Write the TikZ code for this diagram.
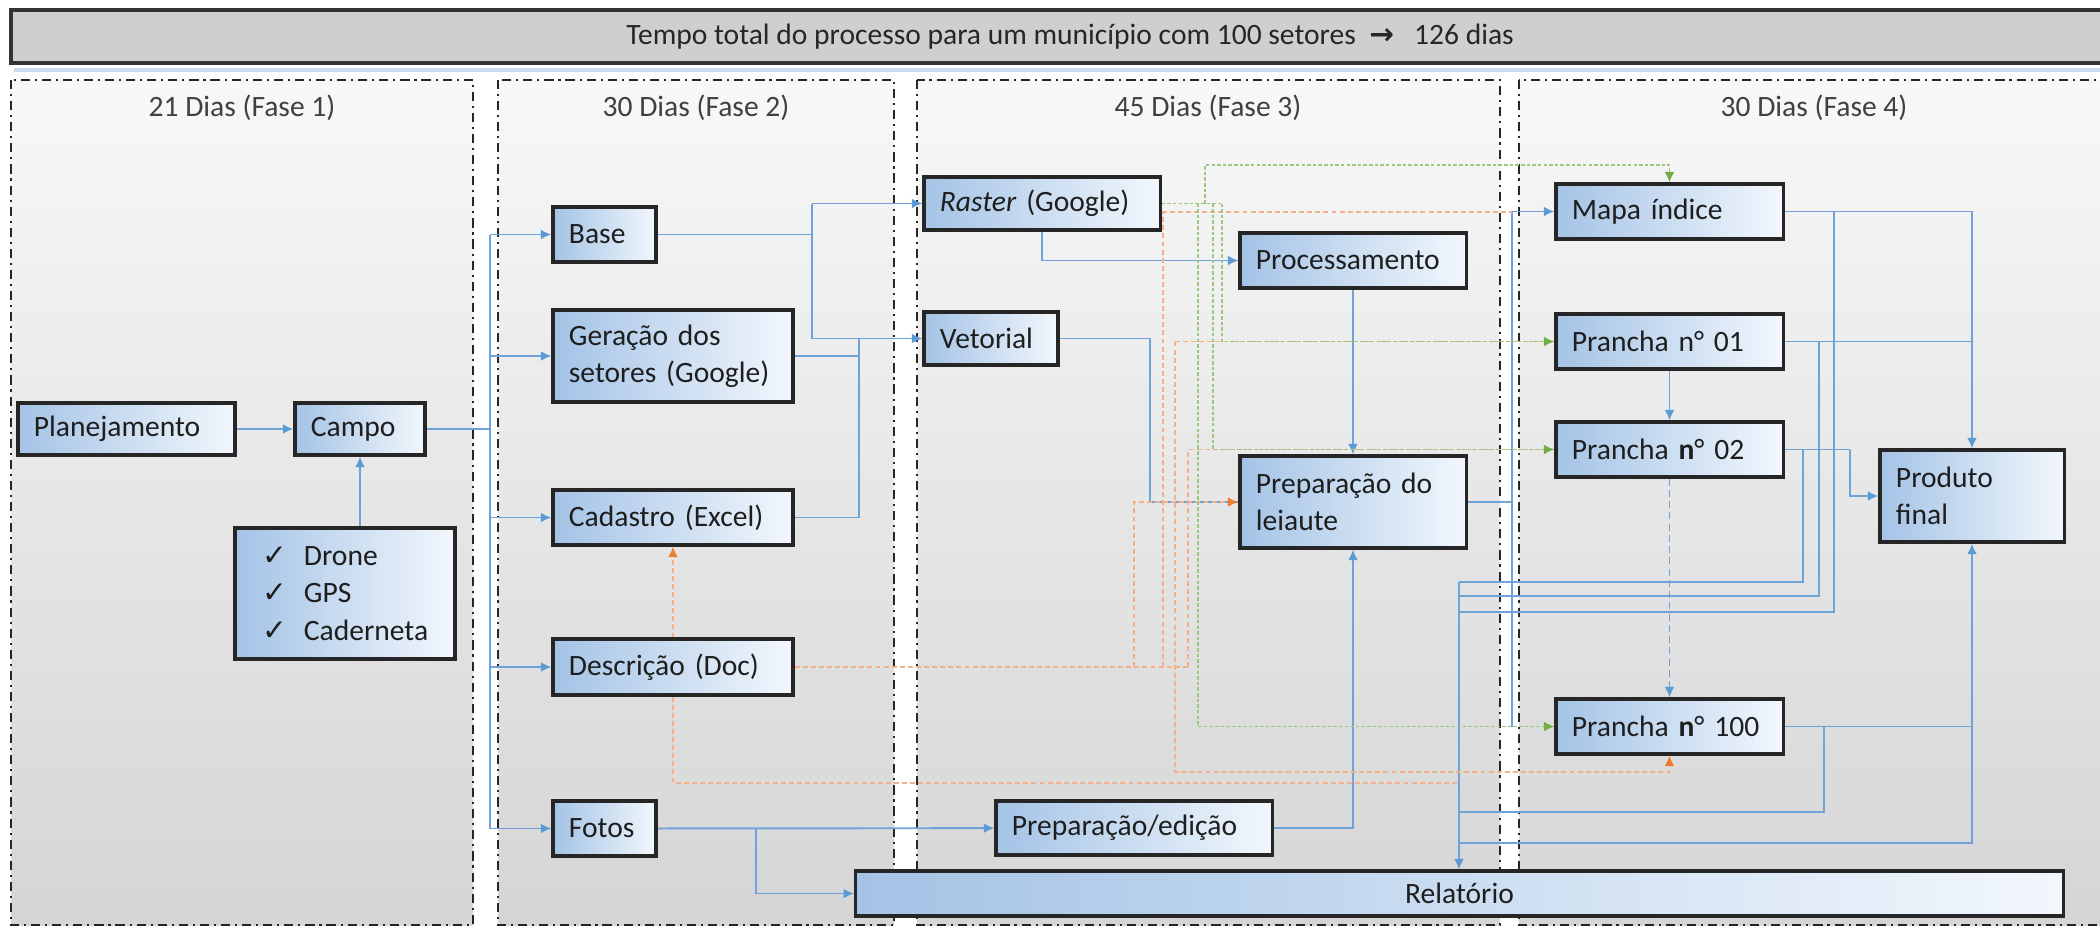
\documentclass[tikz,border=0pt]{standalone}
\usepackage{fontspec}
\setmainfont{Carlito}
\newfontfamily\djv{DejaVu Sans}
\usetikzlibrary{arrows.meta}
\definecolor{boxL}{HTML}{A4C3E6}
\definecolor{boxR}{HTML}{F2F7FC}
\definecolor{lnB}{HTML}{6FA2D8}
\definecolor{lnG}{HTML}{9CC87E}
\definecolor{lnO}{HTML}{F4B08A}
\definecolor{arO}{HTML}{ED7D31}
\definecolor{arG}{HTML}{70AD47}
\definecolor{arB}{HTML}{5B9BD5}
\definecolor{txt}{HTML}{1E1E1E}
\definecolor{ttlc}{HTML}{404040}
\definecolor{phT}{HTML}{F8F8F8}
\definecolor{phB}{HTML}{D5D5D5}
\definecolor{hdrc}{HTML}{CFCFCF}
\definecolor{hline}{HTML}{C9DCEF}
\pgfdeclarelayer{bgl}\pgfdeclarelayer{lnl}\pgfsetlayers{bgl,lnl,main}
\begin{document}
\begin{tikzpicture}[x=0.01cm,y=-0.01cm,
 every node/.style={font=\fontsize{8.4}{10.6}\selectfont, text=txt},
 bx/.style={draw=black!85, line width=0.9pt, left color=boxL, right color=boxR, inner xsep=0.16cm, inner ysep=0pt, align=left},
 phase/.style={draw=black!85, line width=0.75pt, dash pattern=on 2.6pt off 1.4pt on 0.6pt off 1.4pt, top color=phT, bottom color=phB},
 ttl/.style={text=ttlc},
 blw/.style={draw=lnB, line width=0.55pt},
 grw/.style={draw=lnG, line width=0.5pt, dash pattern=on 1pt off 0.6pt},
 orw/.style={draw=lnO, line width=0.5pt, dash pattern=on 1.4pt off 0.9pt},
 ab/.style={-{Latex[length=3pt,width=2.8pt,color=arB]}},
 ag/.style={-{Latex[length=3pt,width=2.8pt,color=arG]}},
 ao/.style={-{Latex[length=3pt,width=2.8pt,color=arO]}},
]
\useasboundingbox (0,0) rectangle (2100,929);
\clip (0,0) rectangle (2100,929);
\begin{pgfonlayer}{bgl}
\fill[white] (0,0) rectangle (2100,929);
\draw[phase] (11,80) rectangle (473,925);
\draw[phase] (498,80) rectangle (894,925);
\draw[phase] (917,80) rectangle (1500,925);
\draw[phase] (1519,80) rectangle (2130,925);
\draw[fill=hdrc, draw=black!80, line width=1.1pt] (11,10) rectangle (2130,63);
\draw[draw=hline, line width=1pt] (14,70) -- (2100,70);
\end{pgfonlayer}

\node[text=black!85] (hdr) at (1070,37) {Tempo total do processo para um município com 100 setores~~{\djv\bfseries →}~~~126 dias};
\node[ttl] (t1) at (242,108) {21 Dias (Fase 1)};
\node[ttl] (t2) at (696,108) {30 Dias (Fase 2)};
\node[ttl] (t3) at (1208,108) {45 Dias (Fase 3)};
\node[ttl] (t4) at (1814,108) {30 Dias (Fase 4)};

% phase 1
\node[bx, minimum width=2.17cm, minimum height=0.52cm, text width=1.85cm] (plan) at (126.5,429) {Planejamento};
\node[bx, minimum width=1.30cm, minimum height=0.52cm, text width=0.98cm] (campo) at (360,429) {Campo};
\node[bx, minimum width=2.20cm, minimum height=1.31cm, inner xsep=0.28cm, text width=1.64cm] (chk) at (345,593.5)
 {\makebox[0.41cm][l]{\djv ✓}Drone\\\makebox[0.41cm][l]{\djv ✓}GPS\\\makebox[0.41cm][l]{\djv ✓}Caderneta};
% phase 2
\node[bx, minimum width=1.03cm, minimum height=0.55cm, text width=0.71cm] (base) at (604.5,234.5) {Base};
\node[bx, minimum width=2.40cm, minimum height=0.92cm, text width=2.08cm] (ger) at (673,356) {Geração dos\\setores (Google)};
\node[bx, minimum width=2.40cm, minimum height=0.55cm, text width=2.08cm] (cad) at (673,517.5) {\mbox{Cadastro (Excel)}};
\node[bx, minimum width=2.40cm, minimum height=0.56cm, text width=2.08cm] (desc) at (673,667) {\mbox{Descrição (Doc)}};
\node[bx, minimum width=1.03cm, minimum height=0.55cm, text width=0.71cm] (fotos) at (604.5,828.5) {Fotos};
% phase 3
\node[bx, minimum width=2.36cm, minimum height=0.53cm, text width=2.04cm] (raster) at (1042,203.5) {\mbox{\textit{Raster} (Google)}};
\node[bx, minimum width=1.34cm, minimum height=0.53cm, text width=1.02cm] (vet) at (991,338.5) {Vetorial};
\node[bx, minimum width=2.26cm, minimum height=0.55cm, text width=1.94cm] (proc) at (1353,260.5) {Processamento};
\node[bx, minimum width=2.26cm, minimum height=0.92cm, text width=1.94cm] (prep) at (1353,502) {Preparação do\\leiaute};
\node[bx, minimum width=2.76cm, minimum height=0.54cm, text width=2.44cm] (edic) at (1134,828) {Preparação/edição};
\node[bx, minimum width=12.07cm, minimum height=0.45cm, text width=11.75cm, align=center] (rel) at (1459.5,893.5) {Relatório};
% phase 4
\node[bx, minimum width=2.27cm, minimum height=0.55cm, text width=1.95cm] (mapa) at (1669.5,211.5) {Mapa índice};
\node[bx, minimum width=2.27cm, minimum height=0.55cm, text width=1.95cm] (p01) at (1669.5,341.5) {Prancha n° 01};
\node[bx, minimum width=2.27cm, minimum height=0.55cm, text width=1.95cm] (p02) at (1669.5,449.5) {Prancha \textbf{n}° 02};
\node[bx, minimum width=2.27cm, minimum height=0.55cm, text width=1.95cm] (p100) at (1669.5,726.5) {Prancha \textbf{n}° 100};
\node[bx, minimum width=1.84cm, minimum height=0.92cm, text width=1.52cm] (prod) at (1972,496) {Produto\\final};

\begin{pgfonlayer}{lnl}
% ---- blue
\draw[blw,ab] (plan) -- (campo);
\draw[blw,ab] (chk.north -| campo.south) -- (campo.south);
\coordinate (bus) at (490,429);
\draw[blw] (campo.east) -- (bus);
\draw[blw] (bus|-base.west) -- (bus|-fotos.west);
\foreach \n in {base,ger,cad,desc,fotos} \draw[blw,ab] (bus|-\n.west) -- (\n.west);
\coordinate (ja) at (812,235);
\coordinate (jb) at (859,357);
\draw[blw] (base.east) -- (ja|-base.east);
\draw[blw] (ja|-raster.west) -- (ja|-vet.west);
\draw[blw,ab] (ja|-raster.west) -- (raster.west);
\draw[blw,ab] (ja|-vet.west) -- (vet.west);
\draw[blw] (ger.east) -| (jb|-vet.west);
\draw[blw] (cad.east) -| (jb|-vet.west);
\draw[blw,ab] (raster.south) |- (proc.west);
\coordinate (jc) at (1150,502);
\draw[blw] (vet.east) -| (jc) -- (prep.west);
\draw[blw,ab] (proc) -- (prep);
\draw[blw,ab] (edic.east) -| (prep.south);
\coordinate (jd) at (1512,502);
\draw[blw] (prep.east) -- (jd|-prep.east);
\draw[blw] (jd|-mapa.west) -- (jd|-p100.west);
\draw[blw,ab] (jd|-mapa.west) -- (mapa.west);
\draw[blw,ab] (fotos) -- (edic);
\coordinate (je) at (756,828);
\draw[blw,ab] (je|-fotos.east) |- (rel.west);
\draw[blw,ab] (mapa.east) -| (prod.north);
\draw[blw] (p01.east) -- (prod.north|-p01.east);
\draw[blw,ab] (p01) -- (p02);
\draw[blw,ab,dash pattern=on 2pt off 1.2pt] (p02) -- (p100);
\coordinate (jf) at (1850,449.5);
\draw[blw] (p02.east) -- (jf);
\draw[blw,ab] (jf) |- (prod.west);
\draw[blw,ab] (p100.east) -| (prod.south);
\coordinate (r0) at (1459,582);
\draw[blw,ab] (r0) -- (r0|-rel.north);
\coordinate (k0) at (1803,582);
\draw[blw] (p02.east -| k0) -- (k0) -- (r0);
\coordinate (k1) at (1819,596);
\draw[blw] (p01.east -| k1) -- (k1) -- (r0|-k1);
\coordinate (k2) at (1834,612);
\draw[blw] (mapa.east -| k2) -- (k2) -- (r0|-k2);
\coordinate (k3) at (1824,812);
\draw[blw] (p100.east -| k3) -- (k3) -- (r0|-k3);
\coordinate (k4) at (1972,843);
\draw[blw] (r0|-k4) -- (k4) -- (prod.south|-p100.east);
% ---- orange
\coordinate (oa) at (1134,667);
\coordinate (ob) at (1163,667);
\coordinate (oc) at (1175,667);
\coordinate (od) at (1188,667);
\draw[orw,ao] (desc) -- (cad);
\coordinate (oy) at (672,783);
\draw[orw] (desc.south) |- (r0|-oy);
\draw[orw] (desc.east) -- (od|-desc.east);
\draw[orw,ao] (oa|-desc.east) |- (prep.west);
\coordinate (oz) at (1163,212);
\draw[orw] (ob|-desc.east) -- (oz);
\draw[orw] (raster.east|-oz) -- (jd|-oz);
\coordinate (ow) at (1175,772);
\draw[orw] (oc|-p01.west) -- (p01.west);
\draw[orw,ao] (oc|-p01.west) -- (ow) -| (p100.south);
\draw[orw] (od|-desc.east) |- (p02.west);
% ---- green
\coordinate (ga) at (1198,203.5);
\coordinate (gb) at (1205,203.5);
\coordinate (gc) at (1213,203.5);
\coordinate (gd) at (1222,203.5);
\coordinate (gt) at (1205,165);
\draw[grw] (raster.east) -- (gd|-raster.east);
\draw[grw,ag] (gd|-raster.east) |- (p01.west);
\draw[grw,ag] (gc|-raster.east) |- (p02.west);
\draw[grw,ag] (ga|-raster.east) |- (p100.west);
\draw[grw,ag] (gb|-raster.east) -- (gt) -| (mapa.north);
\end{pgfonlayer}
\end{tikzpicture}
\end{document}
